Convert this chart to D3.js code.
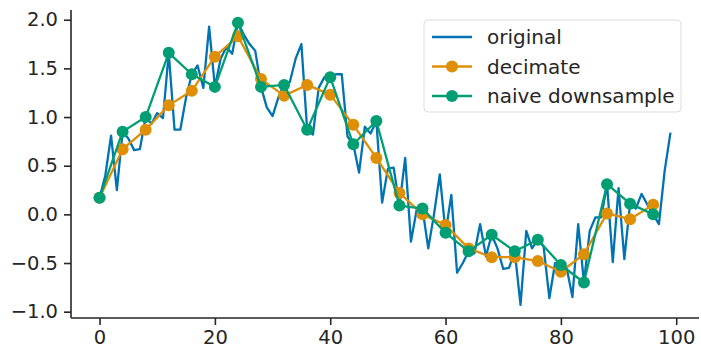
<!DOCTYPE html>
<html><head><meta charset="utf-8">
<script src="https://cdn.jsdelivr.net/npm/d3@7"></script>
<style>body{margin:0;background:#fff}svg{display:block}text{font-family:"DejaVu Sans",sans-serif}</style>
</head><body><svg id="c" width="701" height="360"></svg>
<script>
const original = [0.17,0.4,0.81,0.25,0.85,0.78,0.66,0.67,1.0,0.93,
1.04,0.99,1.66,0.87,0.87,1.2,1.44,1.53,1.3,1.93,
1.31,1.6,1.72,1.65,1.97,1.85,1.75,1.68,1.31,1.1,
1.01,1.2,1.33,1.36,1.6,1.75,0.87,0.82,1.3,1.41,
1.41,1.44,1.44,0.8,0.72,0.43,0.9,0.83,0.96,0.12,
0.47,0.48,0.09,0.58,-0.28,0.05,0.06,-0.35,0.0,0.41,
-0.19,0.2,-0.6,-0.5,-0.38,-0.4,-0.1,-0.43,-0.21,-0.35,
-0.56,-0.55,-0.38,-0.93,-0.17,-0.35,-0.26,-0.33,-0.86,-0.5,
-0.52,-0.55,-0.85,-0.1,-0.7,-0.17,-0.03,-0.03,0.31,-0.49,
0.27,-0.46,0.11,0.06,0.21,0.1,0.0,-0.1,0.45,0.84];
const sampleX = [0,4,8,12,16,20,24,28,32,36,40,44,48,52,56,60,64,68,72,76,80,84,88,92,96];
const decimate = [0.17,0.67,0.87,1.12,1.27,1.62,1.83,1.39,1.22,1.33,1.23,0.92,0.58,0.22,0.0,-0.11,-0.35,-0.44,-0.44,-0.48,-0.59,-0.41,0.01,-0.05,0.10];
const naive = [0.17,0.85,1.0,1.66,1.44,1.31,1.97,1.31,1.33,0.87,1.41,0.72,0.96,0.09,0.06,-0.19,-0.38,-0.21,-0.38,-0.26,-0.52,-0.70,0.31,0.11,0.0];
const xTicks = [0,20,40,60,80,100];
const yTicks = [-1.0,-0.5,0.0,0.5,1.0,1.5,2.0];
const seriesNames = ["original","decimate","naive downsample"];
const colors = ["#0173b2","#de8f05","#029e73"];

const svg = d3.select("#c");
const x = d3.scaleLinear().domain([-4.95,103.95]).range([71,699]);
const y = d3.scaleLinear().domain([-1.065,2.1]).range([318,10]);
const ink = "#262626";

const xa = svg.append("g").attr("transform","translate(0,318)")
  .call(d3.axisBottom(x).tickValues(xTicks).tickSize(7).tickPadding(5).tickFormat(d3.format("d")));
const ya = svg.append("g").attr("transform","translate(71,0)")
  .call(d3.axisLeft(y).tickValues(yTicks).tickSize(7).tickPadding(6).tickFormat(d=>d3.format(".1f")(d).replace("-","\u2212")));
[xa,ya].forEach(a=>{
  a.selectAll("path").attr("stroke",ink).attr("stroke-width",1.6);
  a.selectAll("line").attr("stroke",ink).attr("stroke-width",1.6);
  a.selectAll("text").attr("fill",ink).style("font-size","19.5px");
});
xa.select("path").attr("d","M71,0H699");
ya.select("path").attr("d","M0,10V318");

const line = d3.line().x(d=>x(d[0])).y(d=>y(d[1]));
const g = svg.append("g");
g.append("path").datum(original.map((v,i)=>[i,v])).attr("d",line)
  .attr("fill","none").attr("stroke",colors[0]).attr("stroke-width",2.3).attr("stroke-linejoin","round");
const dec = sampleX.map((xv,i)=>[xv,decimate[i]]);
const nai = sampleX.map((xv,i)=>[xv,naive[i]]);
[[dec,colors[1]],[nai,colors[2]]].forEach(([data,c])=>{
  g.append("path").datum(data).attr("d",line).attr("fill","none").attr("stroke",c).attr("stroke-width",2.3).attr("stroke-linejoin","round");
  g.selectAll(null).data(data).enter().append("circle")
    .attr("cx",d=>x(d[0])).attr("cy",d=>y(d[1])).attr("r",6).attr("fill",c);
});

// legend
const lg = svg.append("g").attr("transform","translate(424,20)");
lg.append("rect").attr("x",0).attr("y",0).attr("width",257).attr("height",92).attr("rx",4)
  .attr("fill","#fff").attr("fill-opacity",0.8).attr("stroke","#dcdcdc").attr("stroke-width",1);
seriesNames.forEach((n,i)=>{
  const yy = 17+i*29.5;
  lg.append("line").attr("x1",8).attr("x2",48).attr("y1",yy).attr("y2",yy).attr("stroke",colors[i]).attr("stroke-width",2.3);
  if(i>0) lg.append("circle").attr("cx",28).attr("cy",yy).attr("r",6).attr("fill",colors[i]);
  lg.append("text").attr("x",63).attr("y",yy).attr("dy","0.35em").attr("fill",ink).style("font-size","20px").text(n);
});
</script></body></html>
